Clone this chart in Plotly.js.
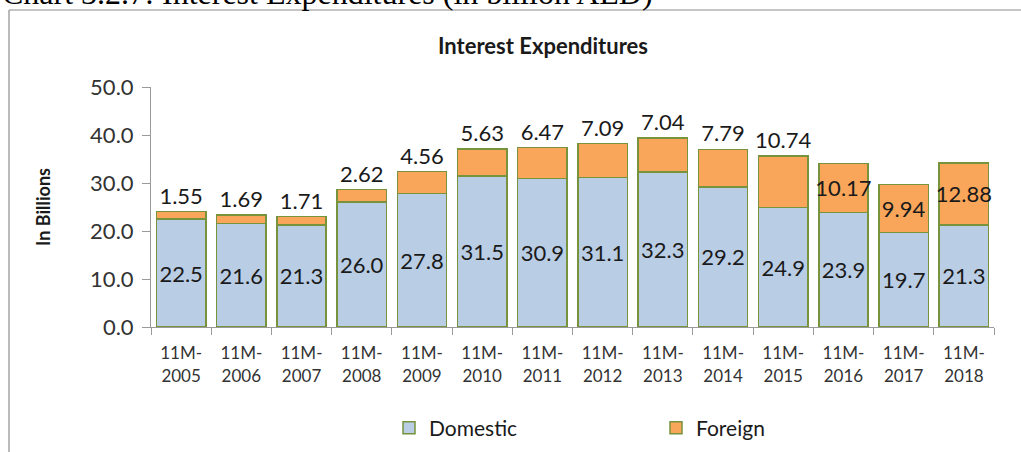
<!DOCTYPE html>
<html>
<head>
<meta charset="utf-8">
<script src="https://cdn.plot.ly/plotly-3.0.1.min.js"></script>
<style>
html,body{margin:0;padding:0;background:#fff;}
#chart{width:1021px;height:452px;}
</style>
</head>
<body>
<div id="chart"></div>
<script>
var categories = ["11M-<br>2005","11M-<br>2006","11M-<br>2007","11M-<br>2008","11M-<br>2009","11M-<br>2010","11M-<br>2011","11M-<br>2012","11M-<br>2013","11M-<br>2014","11M-<br>2015","11M-<br>2016","11M-<br>2017","11M-<br>2018"];
var domestic = [22.5,21.6,21.3,26.0,27.8,31.5,30.9,31.1,32.3,29.2,24.9,23.9,19.7,21.3];
var foreign = [1.55,1.69,1.71,2.62,4.56,5.63,6.47,7.09,7.04,7.79,10.74,10.17,9.94,12.88];
var foreignLabelPos = ["outside","outside","outside","outside","outside","outside","outside","outside","outside","outside","outside","inside","inside","inside"];

var FONT = "Lato, 'Open Sans', sans-serif";
var border = {color:"#77933C", width:1.5};

var traces = [
  {
    type:"bar", name:"Domestic", x:categories, y:domestic,
    marker:{color:"#B9CDE5", line:border},
    text: domestic.map(function(v){return v.toFixed(1);}),
    textposition:"inside", insidetextanchor:"middle", textangle:0,
    constraintext:"none",
    textfont:{family:FONT, size:22, color:"#1a1a1a"},
    hoverinfo:"none"
  },
  {
    type:"bar", name:"Foreign", x:categories, y:foreign,
    marker:{color:"#F9A65A", line:border},
    text: foreign.map(function(v){return v.toFixed(2);}),
    textposition:foreignLabelPos, insidetextanchor:"middle", textangle:0,
    constraintext:"none", cliponaxis:false,
    textfont:{family:FONT, size:22, color:"#1a1a1a"},
    hoverinfo:"none"
  }
];

var W = 1021, H = 452, ML = 151, MR = 27, MT = 87, MB = 0;
var AXIS_BOTTOM = 327;
var PW = W-ML-MR, PH = H-MT-MB;
function px(x){return (x-ML)/PW;}
function py(y){return (H-MB-y)/PH;}

var layout = {
  width:W, height:H,
  margin:{l:ML, r:MR, t:MT, b:MB, pad:0},
  paper_bgcolor:"#fff", plot_bgcolor:"#fff",
  barmode:"stack", bargap:0.18,
  font:{family:FONT, color:"#262626"},
  showlegend:true,
  legend:{orientation:"h", x:px(389), xanchor:"left", y:py(428), yanchor:"middle",
          entrywidth:222, entrywidthmode:"pixels",
          font:{family:FONT, size:21, color:"#1a1a1a"}, traceorder:"normal"},
  xaxis:{type:"category", showline:true, linecolor:"#9a9a9a", linewidth:1,
         ticks:"outside", tickson:"boundaries", ticklen:7, tickcolor:"#9a9a9a",
         ticklabelstandoff:11, automargin:false,
         tickfont:{family:FONT, size:17, color:"#333"}, showgrid:false, zeroline:false, fixedrange:true},
  yaxis:{domain:[py(AXIS_BOTTOM),1], range:[0,50], dtick:10, tickformat:".1f", showline:true, linecolor:"#9a9a9a", linewidth:1,
         ticks:"outside", ticklen:8, tickcolor:"#9a9a9a", showgrid:false, zeroline:false,
         ticklabelstandoff:4, automargin:false,
         tickfont:{family:FONT, size:22, color:"#333"},
         title:{text:"<b>In Billions</b>", font:{family:FONT, size:18, color:"#1a1a1a"}, standoff:34}},
  title:{text:"<b>Interest Expenditures</b>", font:{family:FONT, size:22, color:"#1a1a1a"},
         x:px(543), xanchor:"center", xref:"paper", y:1-46/H, yanchor:"middle"},
  shapes:[
    {type:"line", xref:"paper", yref:"paper", x0:px(9), x1:px(1030), y0:py(10), y1:py(10), line:{color:"#8c8c8c", width:1.2}},
    {type:"line", xref:"paper", yref:"paper", x0:px(9), x1:px(9), y0:py(10), y1:py(460), line:{color:"#8c8c8c", width:1.2}}
  ],
  annotations:[
    {xref:"paper", yref:"paper", x:px(0), xanchor:"left", y:py(-7), yanchor:"middle",
     text:"Chart 3.2.7: Interest Expenditures (in billion AED)", showarrow:false,
     font:{family:"'Liberation Serif', serif", size:32, color:"#000"}}
  ]
};

Plotly.newPlot("chart", traces, layout, {displayModeBar:false, staticPlot:true});
</script>
</body>
</html>
